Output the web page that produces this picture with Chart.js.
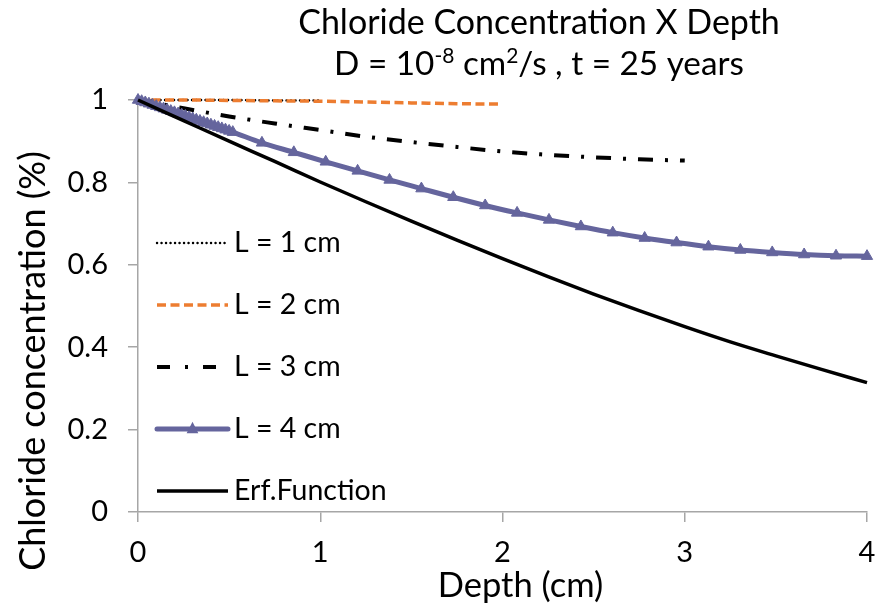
<!DOCTYPE html>
<html><head><meta charset="utf-8">
<script src="https://cdn.jsdelivr.net/npm/chart.js@4"></script>
<style>html,body{margin:0;padding:0;background:#fff}</style>
</head><body>
<canvas id="c" width="879" height="606"></canvas>
<script>
const titleLine1 = "Chloride Concentration X Depth";
const titleLine2 = [["D = 10", false], ["-8", true], [" cm", false], ["2", true], ["/s , t = 25 years", false]];
const xTitle = "Depth (cm)";
const yTitle = "Chloride concentration (%)";
const seriesNames = ["L = 1 cm", "L = 2 cm", "L = 3 cm", "L = 4 cm", "Erf.Function"];

const depthL1 = [0, 0.25, 0.5, 0.75, 1];
const concL1  = [1.000, 1.000, 1.000, 0.999, 0.999];

const depthL2 = [0, 0.25, 0.5, 0.75, 1, 1.25, 1.5, 1.75, 2];
const concL2  = [1.000, 1.000, 0.999, 0.998, 0.997, 0.995, 0.993, 0.991, 0.990];

const depthL3 = [0, 0.25, 0.5, 0.75, 1, 1.25, 1.5, 1.75, 2, 2.25, 2.5, 2.75, 3];
const concL3  = [1.000, 0.980, 0.960, 0.943, 0.927, 0.911, 0.898, 0.886, 0.875, 0.867, 0.861, 0.856, 0.853];

const depthL4 = [0, 0.02, 0.04, 0.06, 0.08, 0.10, 0.12, 0.14, 0.16, 0.18, 0.20, 0.22, 0.24, 0.26,
  0.28, 0.30, 0.32, 0.34, 0.36, 0.38, 0.40, 0.42, 0.44, 0.46, 0.48, 0.50, 0.52,
  0.68, 0.855, 1.03, 1.205, 1.38, 1.555, 1.73, 1.905, 2.08, 2.255, 2.43, 2.605, 2.78, 2.955,
  3.13, 3.305, 3.48, 3.655, 3.83, 4.0];
const concL4  = [1.000, 0.997, 0.994, 0.991, 0.988, 0.985, 0.982, 0.979, 0.976, 0.973, 0.970, 0.967, 0.964, 0.961,
  0.958, 0.955, 0.952, 0.949, 0.946, 0.943, 0.940, 0.937, 0.934, 0.931, 0.928, 0.925, 0.922,
  0.896, 0.873, 0.850, 0.828, 0.806, 0.785, 0.764, 0.744, 0.726, 0.709, 0.693, 0.678, 0.665, 0.654,
  0.644, 0.636, 0.630, 0.625, 0.622, 0.621];

const depthErf = [0, 0.25, 0.5, 0.75, 1, 1.25, 1.5, 1.75, 2, 2.25, 2.5, 2.75, 3, 3.25, 3.5, 3.75, 4];
const concErf  = [1.000, 0.950, 0.900, 0.851, 0.801, 0.753, 0.706, 0.660, 0.615, 0.571, 0.529, 0.489, 0.450, 0.413, 0.379, 0.346, 0.314];

const xTicks = [0, 1, 2, 3, 4];
const yTicks = [0, 0.2, 0.4, 0.6, 0.8, 1];

const FONT = "Lato";
const pts = (xs, ys) => xs.map((x, i) => ({x: x, y: ys[i]}));
const purple = "#65659d";

const datasets = [
  {label: seriesNames[0], data: pts(depthL1, concL1), borderColor: "#000", borderWidth: 2.4, borderDash: [0.1, 4.4], borderCapStyle: "round", pointRadius: 0, order: 5},
  {label: seriesNames[1], data: pts(depthL2, concL2), borderColor: "#ed7d31", borderWidth: 3.5, borderDash: [9, 4.5], pointRadius: 0, order: 4},
  {label: seriesNames[2], data: pts(depthL3, concL3), borderColor: "#000", borderWidth: 4, borderDash: [15, 12, 3, 12], pointRadius: 0, order: 3},
  {label: seriesNames[3], data: pts(depthL4, concL4), borderColor: purple, backgroundColor: purple, borderWidth: 5, pointStyle: "triangle", pointRadius: 6.5, pointBorderWidth: 1, pointBackgroundColor: purple, pointBorderColor: purple, order: 2},
  {label: seriesNames[4], data: pts(depthErf, concErf), borderColor: "#000", borderWidth: 3.5, pointRadius: 0, order: 1}
];
datasets.forEach(d => { d.fill = false; d.clip = false; d.cubicInterpolationMode = "monotone"; d.pointHoverRadius = d.pointRadius; });

const decor = {
  id: "decor",
  afterDraw(chart) {
    const ctx = chart.ctx, ca = chart.chartArea;
    ctx.save();
    ctx.fillStyle = "#000";
    // title
    const tSize = 34, t2Size = 33.3, cx = 539;
    ctx.font = tSize + "px " + FONT;
    ctx.textAlign = "center"; ctx.textBaseline = "alphabetic";
    ctx.fillText(titleLine1, cx, 34);
    const supSize = Math.round(t2Size * 0.62);
    let total = 0;
    titleLine2.forEach(([t, s]) => { ctx.font = (s ? supSize : t2Size) + "px " + FONT; total += ctx.measureText(t).width; });
    let x = cx - total / 2;
    ctx.textAlign = "left";
    titleLine2.forEach(([t, s]) => {
      ctx.font = (s ? supSize : t2Size) + "px " + FONT;
      ctx.fillText(t, x, s ? 75 - t2Size * 0.36 : 75);
      x += ctx.measureText(t).width;
    });
    // x title
    ctx.font = "34.5px " + FONT;
    ctx.textAlign = "center"; ctx.textBaseline = "alphabetic";
    ctx.fillText(xTitle, 520.5, 597);
    // y title
    ctx.save();
    ctx.translate(44.5, 361);
    ctx.rotate(-Math.PI / 2);
    ctx.textAlign = "center"; ctx.textBaseline = "alphabetic";
    ctx.font = "36px " + FONT;
    ctx.fillText(yTitle, 0, 0);
    ctx.restore();
    // legend
    const lx0 = ca.left + 19, tx = ca.left + 96;
    chart.data.datasets.forEach((d, i) => {
      const y = ca.top + 143 + 62 * i;
      const isDashDot = d.label === seriesNames[2];
      const lx1 = isDashDot ? ca.left + 80 : ca.left + 90;
      ctx.save();
      ctx.strokeStyle = d.borderColor; ctx.lineWidth = d.borderWidth;
      ctx.setLineDash(isDashDot ? [13, 15, 3, 15] : (d.borderDash || []));
      ctx.lineCap = d.label === seriesNames[3] ? "round" : (d.borderCapStyle || "butt");
      ctx.beginPath(); ctx.moveTo(lx0, y); ctx.lineTo(lx1, y); ctx.stroke();
      ctx.restore();
      if (d.pointRadius > 0) {
        const r = d.pointRadius, mx = (lx0 + lx1) / 2;
        ctx.fillStyle = d.pointBackgroundColor;
        ctx.beginPath();
        ctx.moveTo(mx, y - r * 1.1);
        ctx.lineTo(mx + r * 0.9, y + r * 0.65);
        ctx.lineTo(mx - r * 0.9, y + r * 0.65);
        ctx.closePath(); ctx.fill();
      }
      ctx.fillStyle = "#000";
      ctx.font = "28.5px " + FONT;
      ctx.textAlign = "left"; ctx.textBaseline = "middle";
      ctx.fillText(d.label, tx, y);
    });
    ctx.restore();
  }
};

const axisGray = "#a6a6a6";
new Chart(document.getElementById("c"), {
  type: "line",
  data: {datasets: datasets},
  options: {
    responsive: false,
    animation: false,
    events: [],
    layout: {padding: {top: 100, right: 12, left: 0, bottom: 0}},
    plugins: {legend: {display: false}, title: {display: false}, tooltip: {enabled: false}},
    scales: {
      x: {
        type: "linear", min: 0, max: 4,
        afterBuildTicks: s => { s.ticks = xTicks.map(v => ({value: v})); },
        afterFit: s => { s.height = 94; s.paddingRight = 0; s.paddingLeft = 0; },
        grid: {drawOnChartArea: false, drawTicks: true, tickLength: 10, color: axisGray, lineWidth: 1.5},
        border: {display: true, color: axisGray, width: 1.5},
        ticks: {color: "#000", font: {family: FONT, size: 29}, padding: 13, maxRotation: 0,
                callback: v => Number(Number(v).toFixed(1)).toString()},
        title: {display: false}
      },
      y: {
        type: "linear", min: 0, max: 1,
        afterBuildTicks: s => { s.ticks = yTicks.map(v => ({value: v})); },
        afterFit: s => { s.width = 138; },
        grid: {drawOnChartArea: false, drawTicks: true, tickLength: 10, color: axisGray, lineWidth: 1.5},
        border: {display: true, color: axisGray, width: 1.5},
        ticks: {color: "#000", font: {family: FONT, size: 29}, padding: 20,
                callback: v => Number(Number(v).toFixed(1)).toString()}
      }
    }
  },
  plugins: [decor]
});
</script>
</body></html>
